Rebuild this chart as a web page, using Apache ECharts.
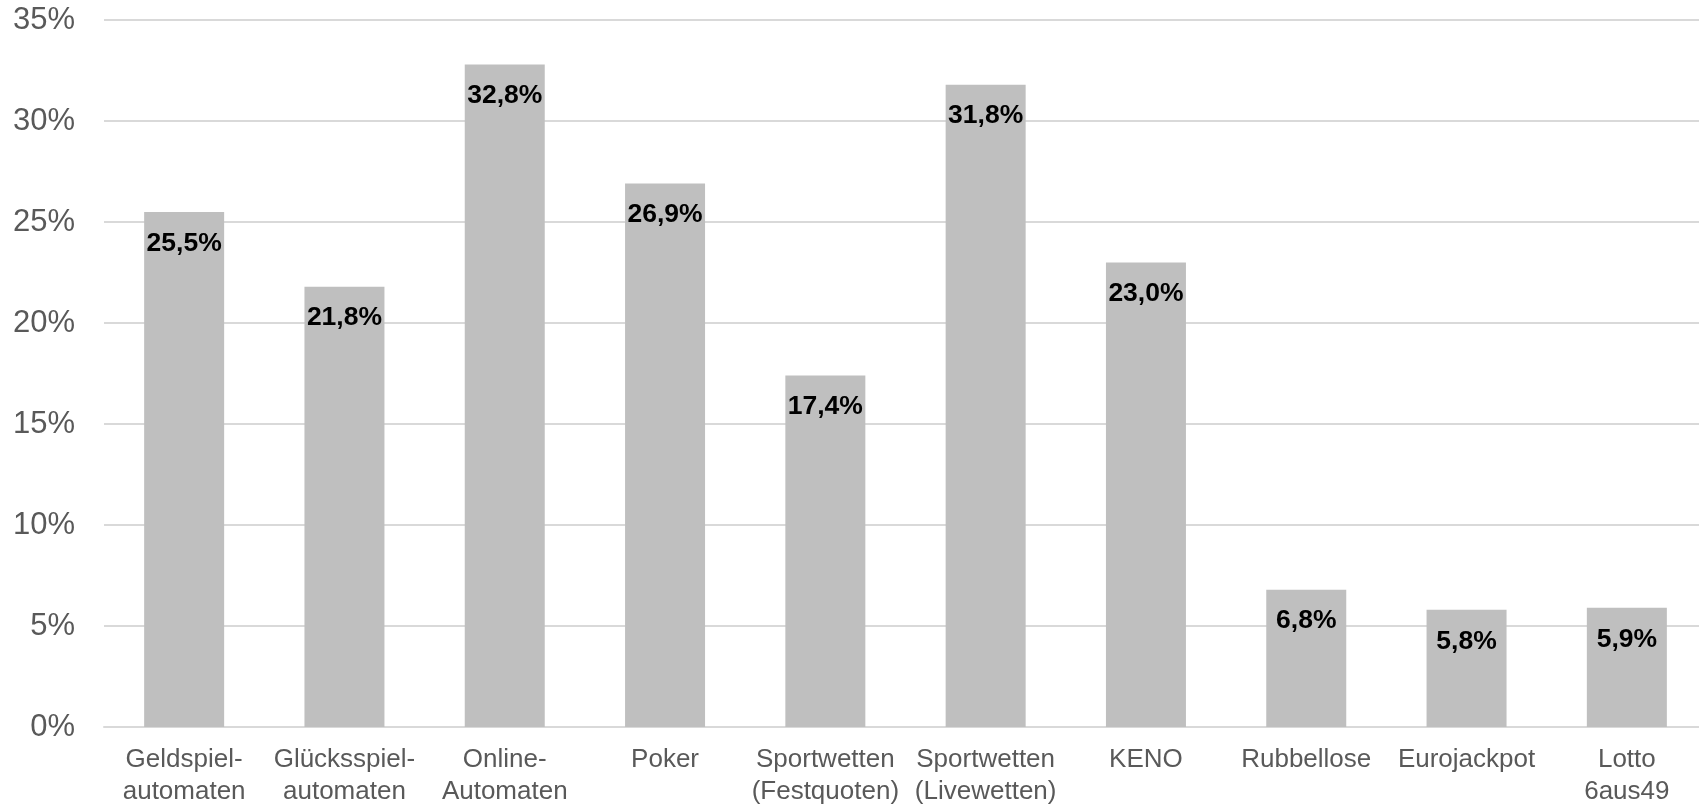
<!DOCTYPE html>
<html>
<head>
<meta charset="utf-8">
<script src="https://cdn.jsdelivr.net/npm/echarts@6/dist/echarts.min.js"></script>
<style>
  html, body { margin: 0; padding: 0; background: #ffffff; }
  #chart { width: 1699px; height: 806px; }
</style>
</head>
<body>
<div id="chart"></div>
<script>
// Kategorien (Glücksspielformen)
const categories = [
  'Geldspiel-\nautomaten',
  'Glücksspiel-\nautomaten',
  'Online-\nAutomaten',
  'Poker',
  'Sportwetten\n(Festquoten)',
  'Sportwetten\n(Livewetten)',
  'KENO',
  'Rubbellose',
  'Eurojackpot',
  'Lotto\n6aus49'
];

// Anteile in Prozent
const shares = [25.5, 21.8, 32.8, 26.9, 17.4, 31.8, 23.0, 6.8, 5.8, 5.9];

// Y-Achse: 0 % bis 35 % in 5er-Schritten
const yMin = 0;
const yMax = 35;
const yStep = 5;

const fontFamily = '"Liberation Sans", Arial, sans-serif';

const chart = echarts.init(document.getElementById('chart'), null, { renderer: 'canvas' });

chart.setOption({
  animation: false,
  backgroundColor: '#ffffff',
  // Zeichenfläche reicht rechts leicht über den Rand hinaus
  grid: {
    left: 104, width: 1603, top: 20, height: 707,
    containLabel: false,
    outerBoundsMode: 'none'
  },
  xAxis: {
    type: 'category',
    data: categories,
    axisLine: { show: true, lineStyle: { color: '#d9d9d9', width: 2 } },
    axisTick: { show: false },
    axisLabel: {
      color: '#595959',
      fontFamily: fontFamily,
      fontSize: 26,
      lineHeight: 32,
      margin: 17,
      interval: 0
    }
  },
  yAxis: {
    type: 'value',
    min: yMin,
    max: yMax,
    interval: yStep,
    axisLine: { show: false },
    axisTick: { show: false },
    splitLine: { show: true, lineStyle: { color: '#d9d9d9', width: 2 } },
    axisLabel: {
      color: '#595959',
      fontFamily: fontFamily,
      fontSize: 31,
      margin: 29,
      padding: [3, 0, 0, 0],
      formatter: '{value}%'
    }
  },
  series: [{
    type: 'bar',
    data: shares,
    barWidth: 80,
    itemStyle: { color: '#bfbfbf' },
    label: {
      show: true,
      position: 'insideTop',
      distance: 18,
      color: '#000000',
      fontFamily: fontFamily,
      fontWeight: 'bold',
      fontSize: 26.5,
      formatter: p => p.value.toFixed(1).replace('.', ',') + '%'
    }
  }]
});
</script>
</body>
</html>
